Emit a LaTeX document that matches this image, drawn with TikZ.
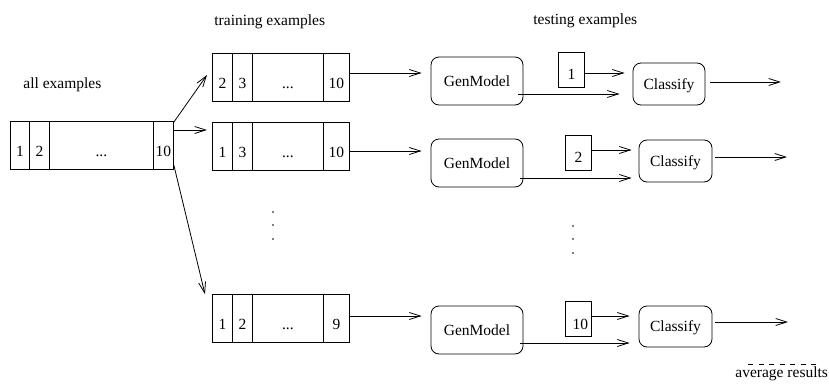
\documentclass[tikz,border=0pt]{standalone}
\usepackage{fontspec}
\setmainfont{Liberation Serif}
\usetikzlibrary{arrows.meta}
\begin{document}
\begin{tikzpicture}[x=1pt,y=-1pt,line width=0.8pt,
  every node/.style={font=\fontsize{15.5pt}{18pt}\selectfont},
  cell/.style={draw,rectangle,inner sep=0pt,anchor=south west,text height=35pt,text depth=13pt},
  testbox/.style={draw,rectangle,inner sep=0pt,anchor=south west,minimum width=26pt,text height=27pt,text depth=8pt},
  procbox/.style={draw,rectangle,rounded corners=8pt,inner sep=0pt,text height=10pt,text depth=0pt},
  genbox/.style={procbox,minimum width=92pt,minimum height=48pt},
  clsbox/.style={procbox,minimum width=73pt,minimum height=42pt},
  lbl/.style={anchor=base west,inner sep=0pt},
  arr/.style={-{Straight Barb[length=11pt,width=7pt]}},
  dot/.style={fill,circle,inner sep=0pt,minimum size=1.8pt}]
\useasboundingbox (0,0) rectangle (829,388);

% labels
\node[lbl] (lall) at (23,88) {all examples};
\node[lbl] (ltrain) at (214,25) {training examples};
\node[lbl] (ltest) at (533,24) {testing examples};
\node[lbl] (lavg) at (735,377) {average results};

% all examples box
\node[cell,minimum width=19pt] (b1) at (10,170) {1};
\node[cell,minimum width=20pt] (b2) at (29,170) {2};
\node[cell,minimum width=104pt] (b3) at (49,170) {...};
\node[cell,minimum width=20pt] (b4) at (153,170) {10};

% training rows
\node[cell,minimum width=20pt] (t1a) at (212,102) {2};
\node[cell,minimum width=20pt] (t1b) at (232,102) {3};
\node[cell,minimum width=71pt] (t1c) at (252,102) {...};
\node[cell,minimum width=26pt] (t1d) at (323,102) {10};

\node[cell,minimum width=20pt] (t2a) at (212,171) {1};
\node[cell,minimum width=20pt] (t2b) at (232,171) {3};
\node[cell,minimum width=71pt] (t2c) at (252,171) {...};
\node[cell,minimum width=26pt] (t2d) at (323,171) {10};

\node[cell,minimum width=20pt] (t3a) at (212,343) {1};
\node[cell,minimum width=20pt] (t3b) at (232,343) {2};
\node[cell,minimum width=71pt] (t3c) at (252,343) {...};
\node[cell,minimum width=26pt] (t3d) at (323,343) {9};

% GenModel boxes
\node[genbox] (g1) at (477,81) {GenModel};
\node[genbox] (g2) at (477,163) {GenModel};
\node[genbox] (g3) at (477,330) {GenModel};

% test boxes
\node[testbox] (s1) at (558,88) {1};
\node[testbox] (s2) at (565,171) {2};
\node[testbox,text depth=7pt,text height=28pt] (s3) at (565,337) {\hspace{4pt}10};

% Classify boxes
\node[clsbox,minimum width=72pt] (c1) at (669,84) {Classify};
\node[clsbox] (c2) at (675.5,161) {Classify};
\node[clsbox,minimum height=41pt] (c3) at (675.5,326.5) {Classify};

% output ends
\coordinate (o1) at (781,82);
\coordinate (o2) at (787,157);
\coordinate (o3) at (788,322);

% fan-out arrows
\draw[arr] ([yshift=-1pt]b4.north east) -- ([xshift=-5pt]t1a.west |- 0,75);
\draw[arr] (b4.east |- 0,130) -- ([xshift=-5pt]t2a.west |- 0,130);
\draw[arr] (b4.east |- 0,165) -- ([xshift=-7pt]t3a.north west);

% training -> GenModel
\draw[arr,shorten >=9pt] (t1d.east |- 0,73) -- (g1.west |- 0,73);
\draw[arr,shorten >=9pt] (t2d.east |- 0,151) -- (g2.west |- 0,151);
\draw[arr,shorten >=9pt] (t3d.east |- 0,316) -- (g3.west |- 0,316);

% test -> Classify
\draw[arr,shorten >=8pt] (s1.east |- 0,73) -- (c1.west |- 0,73);
\draw[arr,shorten >=7pt] (s2.east |- 0,150) -- (c2.west |- 0,150);
\draw[arr,shorten >=9pt] (s3.east |- 0,316) -- (c3.west |- 0,316);

% GenModel -> Classify
\draw[arr,shorten >=13pt] ([xshift=-5pt]g1.east |- 0,94) -- (c1.west |- 0,94);
\draw[arr,shorten >=7pt] ([xshift=-3pt]g2.east |- 0,178) -- (c2.west |- 0,178);
\draw[arr,shorten >=9pt] ([xshift=-3pt]g3.east |- 0,343) -- (c3.west |- 0,343);

% Classify outputs
\draw[arr] ([xshift=5pt]c1.east |- 0,82) -- (o1);
\draw[arr] ([xshift=3pt]c2.east |- 0,157) -- (o2);
\draw[arr] ([xshift=3pt]c3.east |- 0,322) -- (o3);

% vertical dots
\node[dot] (d1) at (273,212) {};
\node[dot] (d2) at (273,225) {};
\node[dot] (d3) at (273,239) {};
\node[dot] (d4) at (573,226) {};
\node[dot] (d5) at (573,239) {};
\node[dot] (d6) at (573,253) {};

% dashed averaging line
\coordinate (a1) at (748,364);
\coordinate (a2) at (820,364);
\draw[dash pattern=on 5pt off 5.5pt] (a1) -- (a2);
\end{tikzpicture}
\end{document}
